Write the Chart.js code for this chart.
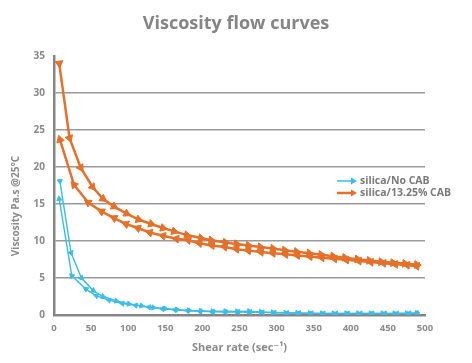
<!DOCTYPE html>
<html>
<head>
<meta charset="utf-8">
<script src="https://cdn.jsdelivr.net/npm/chart.js@4/dist/chart.umd.min.js"></script>
<style>
html,body{margin:0;padding:0;background:#fff;}
#wrap{position:relative;width:472px;height:363px;}
</style>
</head>
<body>
<div id="wrap"><canvas id="c" width="472" height="363"></canvas></div>
<script>
// ---- data ----
const title = "Viscosity flow curves";
const xTitle = "Shear rate (sec\u207B\u00B9)";
const yTitle = "Viscosity Pa.s @25\u00B0C";
const seriesNames = ["silica/No CAB", "silica/13.25% CAB"];

// silica/No CAB, ramp up
const noCabUpX = [8, 23, 37, 53, 66, 84, 101, 118, 134, 150, 166, 182, 198, 214, 231, 247, 263, 279, 295, 312, 328, 345, 361, 377, 394, 410, 427, 443, 459, 476, 489];
const noCabUpY = [18.1, 8.4, 5.0, 3.3, 2.5, 1.9, 1.5, 1.25, 1.0, 0.85, 0.72, 0.62, 0.55, 0.5, 0.5, 0.48, 0.5, 0.42, 0.35, 0.3, 0.28, 0.25, 0.22, 0.22, 0.22, 0.22, 0.22, 0.22, 0.22, 0.24, 0.28];
// silica/No CAB, ramp down
const noCabDownX = [7, 24, 43, 57, 74, 92, 110, 128, 146, 163, 180, 197, 214, 231, 248, 264, 281, 297, 314, 330, 347, 363, 380, 396, 413, 429, 446, 462, 479, 489];
const noCabDownY = [15.7, 5.3, 3.5, 2.6, 2.0, 1.55, 1.3, 1.05, 0.85, 0.7, 0.58, 0.5, 0.42, 0.4, 0.4, 0.38, 0.35, 0.3, 0.27, 0.24, 0.22, 0.2, 0.2, 0.2, 0.2, 0.2, 0.2, 0.2, 0.22, 0.25];

// silica/13.25% CAB, ramp up
const cabUpX = [7, 21, 36, 52, 66, 81, 98, 114, 131, 147, 162, 179, 198, 212, 231, 246, 262, 278, 295, 311, 327, 344, 360, 376, 392, 409, 425, 441, 457, 473, 489];
const cabUpY = [34.0, 23.9, 19.9, 17.3, 15.7, 14.65, 13.7, 12.9, 12.3, 11.75, 11.3, 10.8, 10.4, 10.1, 9.8, 9.6, 9.4, 9.2, 9.0, 8.75, 8.55, 8.35, 8.15, 7.95, 7.75, 7.55, 7.35, 7.2, 7.05, 6.95, 6.8];
// silica/13.25% CAB, ramp down
const cabDownX = [8, 27, 46, 64, 81, 97, 113, 129, 147, 165, 181, 196, 213, 230, 246, 262, 279, 295, 312, 328, 345, 361, 378, 394, 411, 427, 444, 460, 476, 489];
const cabDownY = [23.7, 17.6, 15.2, 14.0, 13.1, 12.3, 11.75, 11.15, 10.7, 10.3, 10.1, 9.7, 9.4, 9.2, 8.9, 8.7, 8.5, 8.35, 8.2, 8.05, 7.9, 7.75, 7.6, 7.45, 7.3, 7.15, 7.0, 6.85, 6.75, 6.6];

const xTicks = [0, 50, 100, 150, 200, 250, 300, 350, 400, 450, 500];
const yTicks = [0, 5, 10, 15, 20, 25, 30, 35];

// ---- styling ----
const BLUE = '#3cbde6';
const ORANGE = '#e5702a';
const GREY = '#8a8a8a';
const FONT = '"Open Sans", "DejaVu Sans", sans-serif';

function pts(xs, ys){ return xs.map((x,i)=>({x:x, y:ys[i]})); }

// arrowhead orientation follows the line direction
function rot(forward){
  return function(ctx){
    const ch = ctx.chart, d = ctx.dataset.data, i = ctx.dataIndex;
    const sx = ch.scales.x, sy = ch.scales.y;
    if (!sx || !sy || !d || d.length < 2) return 0;
    let a, b;
    if (i < d.length - 1) { a = d[i]; b = d[i+1]; } else { a = d[i-1]; b = d[i]; }
    const dx = sx.getPixelForValue(b.x) - sx.getPixelForValue(a.x);
    const dy = sy.getPixelForValue(b.y) - sy.getPixelForValue(a.y);
    let ang = Math.atan2(dy, dx) * 180 / Math.PI + 90;
    if (!forward) ang += 180;
    return ang;
  };
}

function ds(label, xs, ys, color, width, radius, forward){
  return {
    label: label,
    data: pts(xs, ys),
    borderColor: color,
    backgroundColor: color,
    borderWidth: width,
    pointStyle: 'triangle',
    pointRadius: radius,
    pointHoverRadius: radius,
    pointBorderWidth: 1,
    pointRotation: rot(forward),
    tension: 0,
    showLine: true,
    fill: false
  };
}

const customDraw = {
  id: 'customDraw',
  afterDraw(chart){
    const ctx = chart.ctx;
    // main title
    ctx.save();
    ctx.fillStyle = '#858585';
    ctx.font = 'bold 18px ' + FONT;
    ctx.textAlign = 'center';
    ctx.textBaseline = 'middle';
    ctx.fillText(title, 236, 24);
    ctx.restore();

    ctx.save();
    // y axis title
    ctx.translate(16, 206);
    ctx.rotate(-Math.PI/2);
    ctx.fillStyle = GREY;
    ctx.font = 'bold 10px ' + FONT;
    ctx.textAlign = 'center';
    ctx.textBaseline = 'middle';
    ctx.fillText(yTitle, 0, 0);
    ctx.restore();

    // legend
    const items = [
      {name: seriesNames[0], color: BLUE, w: 1.5, y: 181},
      {name: seriesNames[1], color: ORANGE, w: 2.5, y: 193}
    ];
    ctx.save();
    items.forEach(it => {
      ctx.strokeStyle = it.color;
      ctx.lineWidth = it.w;
      ctx.beginPath();
      ctx.moveTo(337, it.y);
      ctx.lineTo(353, it.y);
      ctx.stroke();
      ctx.fillStyle = it.color;
      ctx.beginPath();
      ctx.moveTo(357, it.y);
      ctx.lineTo(351, it.y - 3.5);
      ctx.lineTo(351, it.y + 3.5);
      ctx.closePath();
      ctx.fill();
      ctx.fillStyle = '#7a7a7a';
      ctx.font = 'bold 10.5px ' + FONT;
      ctx.textAlign = 'left';
      ctx.textBaseline = 'middle';
      ctx.fillText(it.name, 360, it.y);
    });
    ctx.restore();
  }
};

new Chart(document.getElementById('c'), {
  type: 'scatter',
  data: {
    datasets: [
      ds(seriesNames[1], cabUpX, cabUpY, ORANGE, 2.5, 4.5, true),
      ds(seriesNames[1], cabDownX, cabDownY, ORANGE, 2.5, 4.5, false),
      ds(seriesNames[0], noCabUpX, noCabUpY, BLUE, 1.4, 3, true),
      ds(seriesNames[0], noCabDownX, noCabDownY, BLUE, 1.4, 3, false)
    ]
  },
  options: {
    responsive: false,
    animation: false,
    events: [],
    layout: { padding: { left: 0, right: 47, top: 56, bottom: 0 } },
    plugins: {
      legend: { display: false },
      tooltip: { enabled: false },
      title: { display: false }
    },
    scales: {
      x: {
        type: 'linear',
        min: 0, max: 500,
        afterBuildTicks(s){ s.ticks = xTicks.map(v => ({value: v})); },
        afterFit(s){ s.height = 48; },
        grid: { display: false, drawTicks: false },
        border: { display: true, color: '#858585', width: 2.5 },
        ticks: { color: GREY, font: { family: FONT, size: 9.5, weight: 'bold' }, padding: 8, maxRotation: 0 },
        title: { display: true, text: xTitle, color: GREY, font: { family: FONT, size: 11, weight: 'bold' }, padding: { top: 0, bottom: 9 } }
      },
      y: {
        type: 'linear',
        min: 0, max: 35,
        afterBuildTicks(s){ s.ticks = yTicks.map(v => ({value: v})); },
        afterFit(s){ s.width = 54; },
        grid: {
          drawTicks: false,
          color: ctx => (ctx.tick && (ctx.tick.value === 0 || ctx.tick.value === 35)) ? 'rgba(0,0,0,0)' : '#9a9a9a',
          lineWidth: 1.5
        },
        border: { display: true, color: '#858585', width: 2.5 },
        ticks: { color: GREY, font: { family: FONT, size: 10, weight: 'bold' }, padding: 9 }
      }
    }
  },
  plugins: [customDraw]
});
</script>
</body>
</html>
